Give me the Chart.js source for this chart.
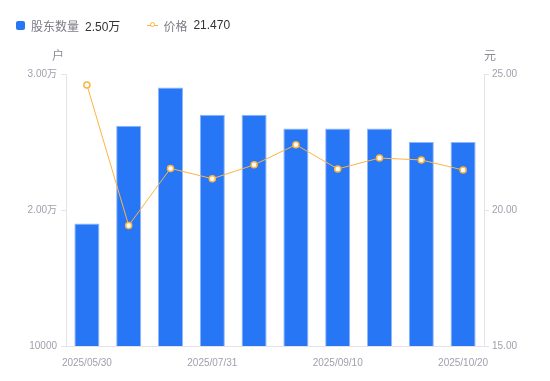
<!DOCTYPE html>
<html>
<head>
<meta charset="utf-8">
<script src="https://cdn.jsdelivr.net/npm/chart.js@4/dist/chart.umd.min.js"></script>
<style>
  html, body { margin: 0; padding: 0; background: #fff; }
  #wrap { position: relative; width: 550px; height: 381px; }
  #legend { position: absolute; left: 16px; top: 15px; height: 20px; display: flex; align-items: center;
    font-family: "Liberation Sans", "Noto Sans CJK SC", sans-serif; font-size: 12px; }
  .item { display: flex; align-items: center; }
  .sq { width: 9px; height: 9px; background: #2776f5; border-radius: 2px; margin-right: 6px; }
  .ln { position: relative; width: 11px; height: 9px; margin-left: 27px; margin-right: 5px; }
  .ln:before { content: ""; position: absolute; left: 0; right: 0; top: 4px; height: 1.5px; background: #fbb540; }
  .ln:after { content: ""; position: absolute; left: 2.5px; top: 1.5px; width: 3px; height: 3px; border: 1.5px solid #fbb540; border-radius: 50%; background: #fff; }
  .name { color: #7c7c88; margin-right: 6px; }
  .val { color: #333; }
  canvas { position: absolute; left: 0; top: 0; }
</style>
</head>
<body>
<div id="wrap">
  <canvas id="c" width="550" height="381"></canvas>
  <div id="legend"></div>
</div>
<script>
const categories = ['2025/05/30','2025/06/20','2025/06/30','2025/07/31','2025/08/20','2025/08/31','2025/09/10','2025/09/30','2025/10/10','2025/10/20'];
const holders = [19000, 26200, 29000, 27000, 27000, 26000, 26000, 26000, 25000, 25000];
const prices = [24.60, 19.43, 21.53, 21.15, 21.66, 22.40, 21.51, 21.91, 21.84, 21.47];
const leftTickLabels = ['10000', '2.00万', '3.00万'];
const rightTickLabels = ['15.00', '20.00', '25.00'];
const legendNames = ['股东数量', '价格'];
const legendValues = ['2.50万', '21.470'];
const axisTitles = ['户', '元'];

const BLUE = '#2776f5', ORANGE = '#fbb540', AXIS = '#e4e4e8', TICK = '#a0a0ad';
const FONT = '"Liberation Sans", "Noto Sans CJK SC", sans-serif';

document.getElementById('legend').innerHTML =
  '<div class="item"><div class="sq"></div><span class="name">' + legendNames[0] + '</span><span class="val">' + legendValues[0] + '</span></div>' +
  '<div class="item"><div class="ln"></div><span class="name">' + legendNames[1] + '</span><span class="val">' + legendValues[1] + '</span></div>';

const titlePlugin = {
  id: 'axisTitles',
  afterDraw(chart) {
    const ctx = chart.ctx, a = chart.chartArea;
    ctx.save();
    ctx.font = '12px ' + FONT;
    ctx.fillStyle = '#8c8c98';
    ctx.textBaseline = 'middle';
    ctx.textAlign = 'center';
    ctx.fillText(axisTitles[0], a.left - 8, a.top - 17);
    ctx.fillText(axisTitles[1], a.right + 6, a.top - 17);
    ctx.restore();
  }
};

new Chart(document.getElementById('c'), {
  data: {
    labels: categories,
    datasets: [
      {
        type: 'line', label: legendNames[1], data: prices, yAxisID: 'y1', order: 0,
        borderColor: ORANGE, borderWidth: 1, pointRadius: 3, pointBorderWidth: 1.5,
        pointBackgroundColor: '#fff', pointBorderColor: ORANGE, tension: 0
      },
      {
        type: 'bar', label: legendNames[0], data: holders, yAxisID: 'y', order: 1,
        backgroundColor: BLUE, borderColor: '#8fb6f9', borderWidth: 1, borderSkipped: 'bottom',
        barPercentage: 0.6, categoryPercentage: 1
      }
    ]
  },
  options: {
    responsive: false,
    animation: false,
    layout: { padding: { top: 74, left: 0, right: 0, bottom: 0 } },
    plugins: { legend: { display: false }, tooltip: { enabled: false } },
    scales: {
      x: {
        offset: true,
        grid: { display: false, drawTicks: false },
        border: { display: true, color: AXIS },
        ticks: {
          autoSkip: false, maxRotation: 0, padding: 11, color: TICK,
          font: { family: FONT, size: 10 },
          callback: (v, i) => (i % 3 === 0 ? categories[i] : '')
        },
        afterFit(s) { s.height = 35; }
      },
      y: {
        position: 'left', min: 10000, max: 30000,
        grid: { drawOnChartArea: false, drawTicks: true, tickLength: 5, color: AXIS },
        border: { display: true, color: AXIS },
        ticks: {
          stepSize: 10000, padding: 4, color: TICK, font: { family: FONT, size: 10 },
          callback: (v, i) => leftTickLabels[i]
        },
        afterFit(s) { s.width = 66; }
      },
      y1: {
        position: 'right', min: 15, max: 25,
        grid: { drawOnChartArea: false, drawTicks: true, tickLength: 5, color: AXIS },
        border: { display: true, color: AXIS },
        ticks: {
          stepSize: 5, padding: 3, color: TICK, font: { family: FONT, size: 10 },
          callback: (v, i) => rightTickLabels[i]
        },
        afterFit(s) { s.width = 66; }
      }
    }
  },
  plugins: [titlePlugin]
});
</script>
</body>
</html>
